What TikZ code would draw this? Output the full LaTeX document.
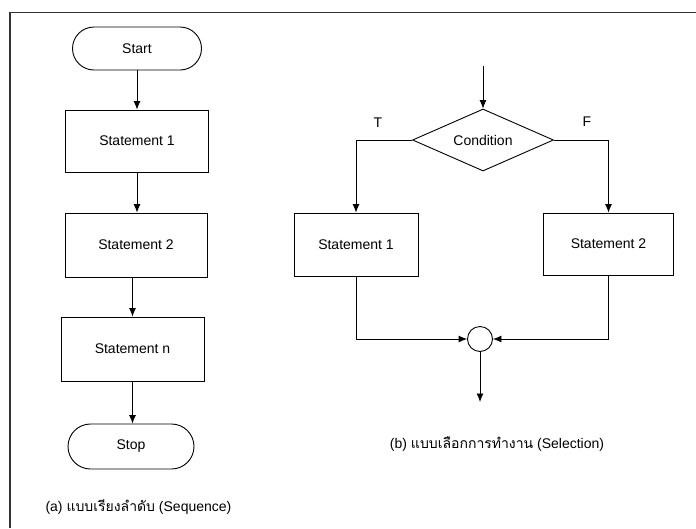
\documentclass[tikz,border=0pt]{standalone}
\usepackage{fontspec}
\setmainfont{Liberation Sans}
\newfontfamily\thaifont[Script=Thai]{Loma}
\usetikzlibrary{arrows.meta,shapes.geometric,shapes.misc}

\begin{document}
\begin{tikzpicture}[x=1pt, y=-1pt,
    every node/.style={font=\fontsize{14}{16}\selectfont},
    flow/.style={line width=0.9pt, -{Latex[length=8.5pt,width=7pt]}},
    stmt/.style={draw, line width=0.9pt, rectangle, inner sep=0pt},
    terminal/.style={draw, line width=0.9pt, rounded rectangle, inner sep=0pt},
    decision/.style={draw, line width=0.9pt, diamond, aspect=2.27, inner sep=0pt},
    caption/.style={font=\fontsize{14}{16}\selectfont}]
  \useasboundingbox (0,0) rectangle (696,528);

  % Frame
  \draw[line width=1.1pt, black!80] (10,528) -- (10,12.5) -- (696,12.5);

  % (a) Sequence
  \node[terminal, minimum width=129pt, minimum height=43pt] (start) at (137,48.5) {Start};
  \node[stmt, minimum width=143pt, minimum height=62pt] (seqone) at (137,141) {Statement 1};
  \node[stmt, minimum width=142pt, minimum height=64pt] (seqtwo) at (136,245) {Statement 2};
  \node[stmt, minimum width=143pt, minimum height=64pt] (seqn) at (132.5,349) {Statement n};
  \node[terminal, minimum width=126pt, minimum height=45pt] (stop) at (131,446.5) {Stop};

  \draw[flow] (start.south) -- (start.south |- seqone.north);
  \draw[flow] (seqone.south) -- (seqone.south |- seqtwo.north);
  \draw[flow] (seqtwo.south -| seqn.north) -- (seqn.north);
  \draw[flow] (seqn.south) -- (seqn.south |- stop.north);

  \node[caption, anchor=west] (capa) at (42,507) {(a) {\thaifont แบบเรียงลำดับ} (Sequence)};

  % (b) Selection
  \coordinate (entry) at (483,66);
  \node[decision, minimum width=141pt, minimum height=62pt] (cond) at (483,140) {Condition};
  \node[stmt, minimum width=124pt, minimum height=63pt] (selone) at (356,244.5) {Statement 1};
  \node[stmt, minimum width=130pt, minimum height=62pt] (seltwo) at (608.5,244) {Statement 2};
  \node[draw, line width=0.9pt, circle, minimum size=25pt, inner sep=0pt] (merge) at (480,339) {};
  \coordinate (exit) at (480,402);

  \node (tlabel) at (378,123) {T};
  \node (flabel) at (587,122) {F};

  \draw[flow] (entry) -- (cond.north);
  \draw[flow] (cond.west) -| (selone.north);
  \draw[flow] (cond.east) -| (seltwo.north);
  \draw[flow] (selone.south) |- (merge.west);
  \draw[flow] (seltwo.south) |- (merge.east);
  \draw[flow] (merge.south) -- (exit);

  \node[caption] (capb) at (497,444) {(b) {\thaifont แบบเลือกการทำงาน} (Selection)};
\end{tikzpicture}
\end{document}
